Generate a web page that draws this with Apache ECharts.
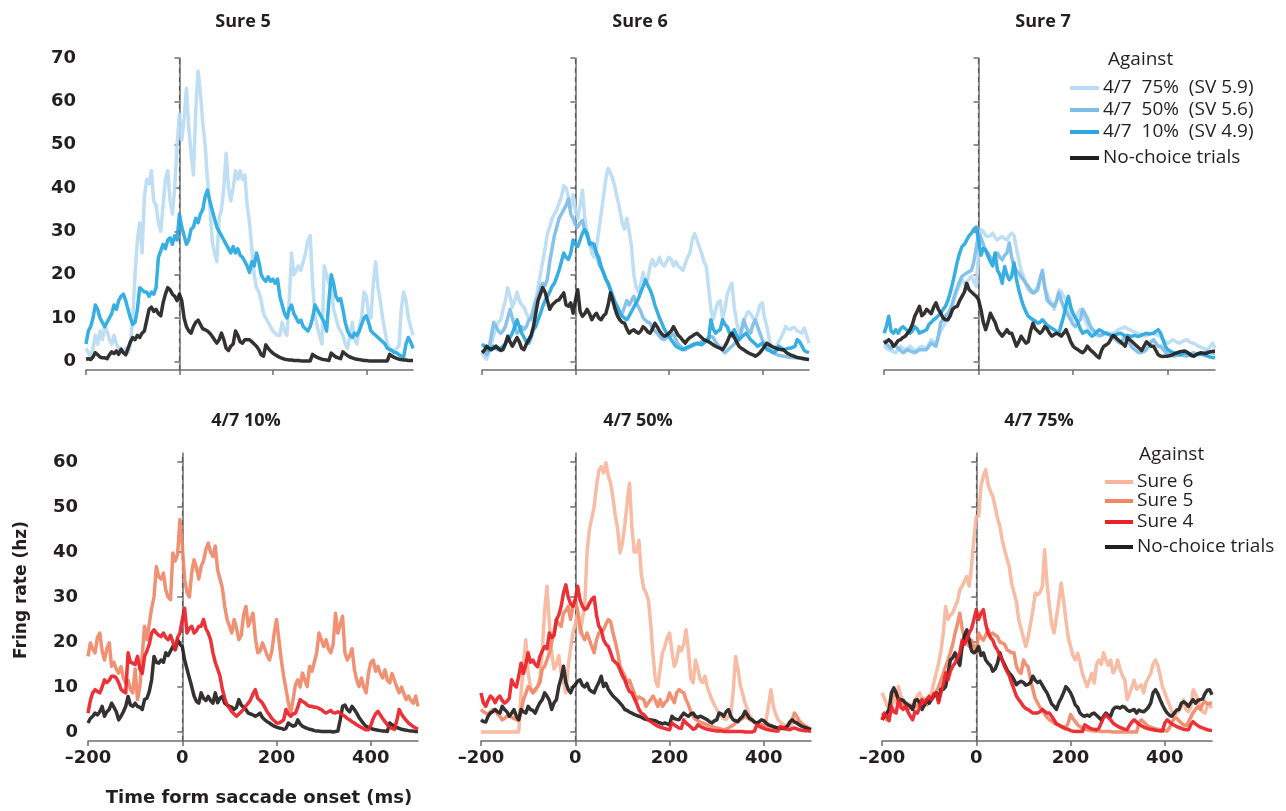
<!DOCTYPE html>
<html>
<head>
<meta charset="utf-8">
<script src="https://cdn.jsdelivr.net/npm/echarts@6/dist/echarts.min.js"></script>
<style>
  html, body { margin: 0; padding: 0; background: #ffffff; }
  #chart { width: 1286px; height: 811px; }
</style>
</head>
<body>
<div id="chart"></div>
<script>
// Sampling grid: time from saccade onset, 5 ms bins
const TIME = Array.from({ length: 141 }, (_, i) => -200 + 5 * i);

const X_TICKS = [-200, 0, 200, 400];
const Y_TICKS_TOP = [0, 10, 20, 30, 40, 50, 60, 70];
const Y_TICKS_BOTTOM = [0, 10, 20, 30, 40, 50, 60];

// ---- Top row: Sure 5 / Sure 6 / Sure 7, against the 4/7 gambles ----
const s5_p75 = [
  3, 2, 1, 3, 6, 4, 7, 5, 8, 7, 5, 4, 6, 4, 3, 3, 2, 3, 2, 4,
  10, 20, 28, 32, 25, 38, 42, 41, 44, 37, 36, 32, 30, 36, 42, 44, 37, 34, 40, 50,
  57, 51, 56, 63, 54, 48, 43, 58, 67, 62, 55, 50, 42, 36, 28, 25, 23, 33, 35, 40,
  48, 40, 37, 40, 44, 42, 44, 42, 43, 36, 32, 26, 20, 17, 16, 14, 11, 10, 9, 8,
  7, 6.5, 6, 6, 9, 7, 6, 14, 25, 20, 21, 22, 21, 23, 25, 28, 29, 18, 11, 8,
  6, 4, 22, 20, 18, 17, 12, 10, 8, 7, 6, 4, 3, 6, 9, 5, 4, 8, 10, 16,
  15, 11, 10, 18, 23, 17, 14, 10, 7, 4, 3, 2.5, 2.3, 3, 3.5, 12, 16, 14, 10, 8, 6
];
const s5_p10 = [
  4, 7, 8, 10, 13, 12, 10, 9, 8, 9, 10, 11, 13, 12, 14, 15, 15.5, 14, 12, 10,
  8.5, 9, 12, 17, 16.5, 16, 16, 15, 16, 15.5, 17, 24, 25.5, 27, 26, 28, 28.5, 27, 29, 28,
  34, 31, 29, 27, 28, 30.5, 31, 33, 32, 34, 35, 38, 39.5, 37, 35, 33, 31, 30, 29, 28,
  27, 26, 25, 26.5, 25, 26, 24.5, 24, 23, 22, 20.5, 23, 22, 25, 23, 20, 19, 18.5, 19.5, 18.5,
  19, 18, 19, 15, 13, 11, 10, 12, 13, 11, 10, 9, 9.5, 8, 7.5, 7, 8, 10, 13, 12,
  11, 10, 9, 7, 14, 20, 18, 15, 14, 14.5, 12, 9, 7, 6, 5.5, 6.5, 6, 7, 8.5, 10,
  10.5, 9, 7, 6.5, 6, 5.5, 5, 4.5, 4, 3, 2.7, 2.5, 2, 2, 1.5, 1.2, 1, 4, 5.5, 4.5, 3
];
const s5_none = [
  0.5, 0.6, 0.4, 1, 2, 1.5, 1, 0.8, 0.8, 0.6, 1.5, 2.2, 1.8, 2.4, 1.6, 2.8, 2, 1.5, 3, 4.5,
  5.5, 5, 6, 5.5, 6.5, 7, 9.5, 12, 12.5, 11.5, 12, 11, 10.5, 13.5, 15.5, 17, 16.5, 15.5, 15, 14,
  15.5, 14, 10, 8, 7, 6.5, 8, 9, 9.5, 8.5, 7.5, 7.3, 7, 6.5, 5.8, 5, 4.2, 5, 6.5, 5,
  3, 2.5, 3.5, 4, 7, 6, 4.5, 4.2, 5, 5, 5, 4.5, 4, 3.5, 2.7, 1.5, 1.2, 3.8, 3, 2.4,
  1.9, 1.5, 1.2, 0.9, 0.7, 0.5, 0.4, 0.3, 0.3, 0.2, 0.2, 0.2, 0.1, 0.1, 0.1, 0.1, 0.1, 1.6, 1.2, 0.9,
  0.7, 0.5, 0.4, 0.3, 0.2, 1.9, 1.4, 1, 0.8, 0.6, 2.2, 1.7, 1.3, 1, 0.8, 0.6, 0.5, 0.4, 0.3, 0.2,
  0.2, 0.1, 0.1, 0.1, 0.1, 0.1, 0.1, 0.1, 0.1, 0.1, 1.6, 1.2, 0.9, 0.7, 0.5, 0.4, 0.3, 0.3, 0.2, 0.2, 0.2
];

const s6_p75 = [
  2, 1, 0.5, 2, 4, 6, 8, 9, 9.5, 12, 14, 17, 15, 12.5, 14, 16, 14, 13, 12.5, 11,
  10, 9.5, 12, 14, 17, 20, 23, 26, 29.5, 31, 33, 34, 35, 36.5, 38, 40.5, 40, 38, 35.5, 38.5,
  35, 33, 36, 39.5, 33, 30, 28, 25, 24, 26.5, 30, 34, 38, 42, 44.5, 43.5, 42, 40, 37.5, 35,
  32, 30.5, 33, 30, 26.5, 20, 17, 16, 18, 20.5, 18, 19, 22, 23.5, 22, 22.5, 24, 22.5, 22, 23,
  24, 23.5, 22, 23, 22, 21.5, 21, 22.5, 24, 25, 28, 29.5, 28, 26.5, 25, 23, 22, 17, 12, 9.6,
  12, 13.5, 14, 10, 12, 15.5, 17, 18, 12.5, 9, 7, 6.5, 9, 10.5, 11.5, 11, 10, 9.6, 11, 13,
  13.5, 10, 8, 5, 3, 2.7, 3.5, 4.5, 5.5, 6.5, 8, 7.5, 7.3, 7.8, 7.7, 7, 6.8, 6.5, 7.7, 6, 4.2
];
const s6_p50 = [
  2.7, 2, 1.5, 3, 6, 9, 8, 7, 6.5, 7, 8, 10, 12, 10, 8, 6.5, 7, 8, 7.3, 8,
  9.5, 10, 12, 14, 15, 17, 18, 17.5, 19, 23, 26, 29, 31, 33, 34, 35, 36, 37.5, 34, 33,
  31.5, 31, 32, 32.5, 30, 29, 27.5, 26.5, 26, 25, 22.5, 21.5, 20.5, 19, 18, 16.5, 15, 13.5, 12.5, 11.5,
  11, 12.5, 14, 13, 14, 15, 13.5, 12.5, 11.5, 10, 9.5, 9, 8.8, 7.5, 7, 6.5, 5.8, 5.2, 5, 5.5,
  5.8, 6, 6.3, 5, 4, 3.5, 3, 2.7, 3, 3.3, 3.5, 3.8, 4, 4.2, 4.5, 4.8, 5, 5.4, 5.8, 5.5,
  4.5, 3.8, 3.2, 2.5, 2, 2.5, 3, 3.5, 4, 4.5, 5, 7, 9.6, 8, 7, 6.5, 8.5, 9.6, 8, 6.5,
  5, 4, 3.5, 2.8, 2.2, 1.9, 1.6, 1.4, 1.3, 1.2, 1.1, 1, 0.9, 0.9, 0.8, 0.8, 0.7, 0.6, 0.5, 0.5, 0.4
];
const s6_p10 = [
  4, 3.5, 3, 2.5, 3, 3.5, 3, 2.7, 3, 3.5, 4, 5, 5.5, 6.5, 8, 9.6, 8, 6.5, 5.5, 4.5,
  4.2, 5.5, 7.3, 8, 9.6, 11, 12.7, 14, 15, 16, 17.3, 18, 19.5, 21, 23, 25, 24, 23.5, 25, 28,
  27, 26.5, 28, 29.6, 30.4, 29.5, 27, 27.3, 27, 25, 24, 22, 20.4, 19, 18, 16.5, 15, 13.5, 12.5, 11,
  10.4, 10, 9.6, 10.5, 11.5, 12.5, 13.5, 14.5, 16, 17.3, 18.8, 17.5, 16.5, 15, 13, 11.5, 10, 8.8, 7.5, 6.5,
  5.8, 5, 4.2, 3.5, 3.2, 2.9, 2.7, 3, 3.3, 3.5, 3.8, 4, 4.2, 4, 3.8, 4.2, 4.7, 5, 9.6, 7.5,
  6.5, 7, 7.3, 9.6, 8.5, 8, 6.5, 5.8, 7.3, 6, 5, 5.5, 6, 6.5, 5.8, 5, 4.5, 4, 3.5, 3.8,
  4.2, 3.5, 2.7, 2.5, 2.2, 2, 2.5, 3.5, 3.2, 2.7, 2.8, 3, 3, 3.2, 3.5, 5, 4.5, 3.5, 2.5, 2.2, 2
];
const s6_none = [
  2, 2.5, 3.5, 3, 2.7, 3, 3.5, 3, 2.5, 2.7, 4, 5.8, 4.5, 3.5, 4.5, 5.5, 4.5, 3, 2.7, 4,
  5, 6, 8, 11, 14, 15.5, 17, 16, 14, 12, 13, 13.5, 14, 14.2, 15, 15.8, 13, 12.7, 13.5, 11.1,
  14, 16.5, 11.5, 10.4, 11, 12, 11, 9.6, 10.5, 11.1, 10, 9.6, 10.5, 11, 13, 15.8, 14, 12, 10.5, 9.6,
  9, 8.8, 7.5, 6.5, 7, 7.3, 6.8, 6.5, 7, 8, 7.5, 6.8, 6.5, 7.5, 8.8, 8, 7, 6.3, 5.8, 6,
  6.5, 7, 8, 7, 6, 5.5, 4.8, 4.2, 5, 5.5, 5.8, 6.2, 6.5, 6, 5.5, 5, 4.8, 4.5, 4.2, 3.8,
  3.5, 3.2, 3, 2.7, 3.5, 4.5, 5.8, 6.5, 5.5, 4.5, 3.5, 3, 2.7, 2.3, 2, 1.7, 1.5, 1.2, 1.5, 2,
  2.7, 3.5, 4.2, 3.8, 3.5, 3.2, 3, 2.8, 2.7, 2.7, 2.2, 1.8, 1.5, 1.3, 1.1, 0.9, 0.8, 0.7, 0.6, 0.5, 0.4
];

const s7_p75 = [
  3.5, 3, 2.7, 2.5, 2.2, 2, 2.8, 3.5, 3, 2.7, 3, 3.5, 3, 2.5, 2.7, 3.2, 3.5, 3.2, 3, 4,
  5, 4.5, 4, 5.5, 7, 8, 9, 9.6, 11, 13, 15, 16.5, 17.5, 18.8, 18, 18.3, 19, 19.6, 18.5, 17.3,
  25, 30.4, 30, 29, 28.8, 29, 29.6, 28.5, 28, 28.5, 28.8, 28.3, 28, 29, 29.6, 29, 26, 23.4, 21, 19.6,
  18, 16.5, 16, 15.8, 16.5, 17.3, 19, 20.4, 17, 15.8, 14.2, 13.5, 12, 14, 16.5, 16, 15, 14.2, 12, 11.1,
  10, 9.6, 11, 12, 11, 9.6, 8.5, 7.3, 7, 6.5, 6, 5.8, 6, 6.3, 6.5, 6.5, 6.5, 6.5, 6.8, 7.3,
  7.5, 7.8, 8, 7.5, 7.3, 7, 6.8, 6.5, 6.3, 6, 5.8, 6, 6.2, 6.4, 6.5, 6.2, 6, 5.8, 5, 4.5,
  4.2, 4.5, 5, 4.7, 4.4, 4.2, 4.5, 4.8, 5, 4.6, 4.3, 4.2, 3.8, 3.5, 3.3, 3, 2.8, 2.7, 3.5, 4.2, 3
];
const s7_p50 = [
  5, 4, 3.5, 3, 3.8, 3.5, 3, 2.5, 2, 2.3, 2.7, 2.4, 2.2, 2, 2.3, 2.7, 2.7, 2.7, 2.7, 3.5,
  4.2, 3.8, 3.5, 6, 9, 9.6, 10.5, 11, 12, 13.5, 15.5, 17, 18.5, 19.6, 20, 20.4, 20.7, 21, 23, 26,
  29.6, 28.5, 27, 25.5, 25, 24, 23.4, 24.5, 25, 24, 23.4, 24.5, 25, 27.3, 24, 22, 21, 20.4, 19.5, 18.8,
  18, 17.3, 16.5, 15.8, 16, 16.5, 19, 21, 17, 14.2, 13.5, 13, 12.7, 14, 15.8, 14, 12.5, 11.5, 10.5, 9.6,
  8.5, 8, 9, 9.6, 12, 11, 10, 8.5, 7.5, 7, 6.5, 6, 6, 6.3, 6.5, 6.3, 6, 5.8, 5, 4.5,
  4.2, 5, 5.8, 5, 4, 3.2, 2.7, 2.3, 2, 2.1, 2.3, 2.7, 3.5, 4.5, 5, 4.2, 3.5, 3.5, 2.8, 2.2,
  1.8, 1.5, 1.3, 1.2, 1.4, 1.5, 1.4, 1.3, 1.2, 1.5, 1.8, 2, 1.7, 1.5, 1.6, 1.8, 2.1, 2.3, 2.1, 1.9, 1.9
];
const s7_p10 = [
  6.5, 8, 10.4, 7, 6.5, 7.3, 6.5, 7.5, 8, 7.5, 7, 6.5, 7, 8, 7.5, 6.5, 6.8, 7, 7.3, 8.5,
  9, 9.6, 10, 10.5, 11.1, 12, 12.7, 14, 15.8, 18, 20.4, 23, 25, 26.5, 27, 28, 29, 29.6, 30.5, 31,
  28, 24.5, 26, 25.7, 24.2, 23, 22, 25, 21, 20, 18, 21.9, 20, 18.8, 19.6, 22.7, 19, 16.5, 14.5, 12.7,
  11.5, 10.4, 10, 9.6, 9.3, 8.8, 9, 9.6, 9, 8.3, 8, 7.6, 7.3, 6.8, 6.5, 8.5, 10.4, 13, 15, 12.5,
  11, 10, 9, 7.5, 6.5, 6.8, 7, 6.3, 5.8, 6.2, 6.8, 7.3, 7, 6.6, 6.5, 6.2, 6, 5.8, 6.1, 6.4,
  6.5, 6.2, 5.8, 6, 5.8, 5.8, 6, 5.8, 5.8, 6.1, 6.3, 6.5, 6.3, 6.4, 6.5, 6.9, 7.3, 6.5, 5, 3.5,
  2.7, 2.4, 2.1, 1.9, 1.7, 1.5, 1.7, 1.9, 2, 1.6, 1.3, 1.2, 1.5, 1.8, 1.6, 1.5, 1.4, 1.2, 1, 0.9, 0.8
];
const s7_none = [
  4.2, 4.5, 5, 4.5, 3.5, 4, 4.8, 5, 5.5, 5.8, 6.5, 7.3, 8.5, 10.4, 11.5, 12.7, 10.5, 11, 12, 11.5,
  11, 12.5, 13.5, 12, 11.1, 10, 9.6, 9.6, 10.5, 12, 12.5, 12.7, 14, 15, 16, 18, 16.5, 16, 15.5, 15,
  14.2, 12, 9, 7.3, 9, 11.1, 10, 9, 7.3, 6.5, 5.8, 6.5, 7.3, 6.5, 6.5, 5, 3.5, 4.5, 5.8, 5,
  4.2, 4.5, 7, 8.8, 7.5, 7, 6.5, 7, 8, 7.5, 6.5, 5.8, 6.2, 6.5, 6.2, 5.8, 6.5, 7.3, 6, 4.5,
  3.5, 3, 2.7, 2.3, 2, 2.5, 3.5, 2.8, 2.3, 1.8, 1.2, 0.8, 2.5, 3.5, 3.8, 4.2, 5.2, 6, 5.5, 5,
  4.5, 4, 3.5, 5.5, 5, 4.5, 4, 3.5, 3, 2.5, 3.5, 4.5, 4, 3.5, 3.5, 2.5, 1.5, 1.2, 1.1, 1.2,
  1.2, 1.3, 1.5, 1.8, 2, 2.2, 2.3, 2.4, 2.2, 1.8, 1.4, 1.2, 1.5, 1.8, 2, 1.9, 1.8, 2, 2.2, 2.3, 2.3
];

// ---- Bottom row: 4/7 10% / 50% / 75%, against the sure options ----
const p10_s5 = [
  16.8, 19.8, 18.5, 17.6, 21, 22, 18, 16, 18.5, 19.8, 14.6, 15.5, 14, 13.1, 14.5, 12, 10.9, 11.5, 9.5, 8.7,
  14, 7.2, 10, 17, 23.5, 20.5, 24, 27.5, 30, 36.8, 34.5, 34, 35.3, 31.5, 30, 29.4, 39.8, 38, 39.5, 47.2,
  41.3, 33.9, 31, 30, 35.3, 38.3, 36.5, 34, 36.8, 38, 40.5, 42, 40, 39, 41.3, 36, 34, 32, 27.9, 25,
  23.5, 22, 25, 23, 20.5, 21.5, 26, 27.9, 23.5, 25, 26.4, 21, 17.6, 18, 19.8, 18.5, 17, 16, 18, 22,
  25, 20.5, 16, 12.4, 9.5, 6.5, 4.2, 7.2, 10.5, 11.6, 10, 13.1, 11.5, 10.1, 14.6, 13.5, 15.5, 17.6, 22, 20.5,
  19, 20.5, 18.5, 17.6, 19.5, 26.4, 22, 24, 25.7, 17.6, 16, 17, 18.5, 14, 11.5, 10.1, 12, 10, 8.7, 13.1,
  15.5, 16, 13.5, 14.6, 13, 12, 13.8, 11.5, 10.9, 13, 11.5, 10, 8.7, 10, 8.5, 7.2, 8, 7, 6.4, 8, 5.7
];
const p10_s4 = [
  4.2, 7, 8.7, 9.4, 9, 8.7, 10, 11.6, 11, 11.5, 12.4, 12.4, 12, 11, 9.5, 9, 8.7, 17.6, 15.5, 15.3,
  15, 16.8, 14, 13, 16.8, 18, 19.5, 22, 22.7, 22, 21.5, 21.2, 22, 21, 20.5, 21.5, 20, 18.3, 21, 22,
  25, 27.5, 22, 23, 23.5, 22, 22.5, 23.5, 23.5, 25, 23, 22, 20.5, 17.6, 15.5, 14, 12.4, 9.5, 7.5, 6,
  5.3, 4.5, 4, 3.5, 4, 4.5, 5, 5.8, 6.4, 7.2, 8.5, 9.4, 7.5, 7, 6.4, 5.5, 4.5, 3.8, 3, 2.5,
  2, 2, 2.3, 2.7, 5, 4, 3.5, 4, 4.2, 5.5, 7.2, 6.8, 6.5, 6, 5.7, 5.7, 5.5, 5.5, 5.2, 5,
  4.5, 4.2, 4.5, 4.8, 4.3, 4.2, 4.5, 4.2, 3.8, 3.5, 3, 2.7, 2.3, 2, 1.6, 1.3, 1, 0.7, 0.5, 0.5,
  1.5, 3, 4, 4.6, 3.8, 3, 2.3, 1.6, 1, 0.8, 0.6, 2.5, 5, 4, 3.2, 2.6, 2, 1.6, 1.2, 0.9, 0.6
];
const p10_none = [
  2, 3, 3.5, 4.2, 3.8, 4.5, 5.7, 3.5, 4.5, 5, 6.4, 5.5, 4.5, 2.7, 3.5, 4.5, 5.7, 7.9, 6, 5.7,
  6.4, 5.7, 5.5, 5, 7.2, 7.5, 9, 11.6, 16.8, 15.5, 15.3, 16, 15.5, 17.6, 17, 18, 19, 18.3, 20.5, 19.5,
  19, 16, 14, 12, 10.1, 8, 6.8, 6.4, 8.7, 7.5, 7, 7.9, 7, 6.4, 8.7, 6.5, 7.5, 7.9, 6.4, 6,
  5.7, 5.5, 5, 5.5, 7.2, 6, 5.5, 5, 4.2, 4, 3.8, 3.5, 3.8, 4.2, 3.2, 2.7, 2.3, 2, 1.6, 1.3,
  1.1, 0.9, 0.8, 0.6, 0.8, 2, 1.6, 1.3, 1.5, 2.7, 1.8, 1.3, 1, 0.8, 0.6, 0.5, 0.3, 0.2, 0.2, 0.1,
  0.1, 0.1, 0.1, 0.1, 0, 0.1, 0.2, 2.7, 5.7, 6, 5, 4.5, 5.7, 5, 4.2, 3.2, 2.5, 1.8, 1.3, 1,
  0.8, 0.6, 0.5, 0.4, 0.3, 0.2, 0.2, 0.1, 2, 1.6, 1.3, 1, 0.8, 0.6, 0.5, 0.4, 0.3, 0.2, 0.2, 0.1, 0.1
];

const p50_s6 = [
  0, 0, 0, 0, 0, 0, 0, 0, 0, 0, 0, 0, 0, 0, 0, 0, 0, 8.7, 15, 20.5,
  13.1, 10, 8.7, 9, 10.1, 12, 18, 27, 32.4, 24, 17.6, 14, 15, 17, 13.1, 11, 8.7, 14.6, 18.5, 22,
  24, 26.4, 22, 25, 27.9, 40, 45, 47.5, 50.1, 54.6, 58, 59, 57.6, 59.8, 57, 55.3, 52, 48, 45, 39.8,
  42, 46, 51, 55.3, 45.7, 40, 40, 42.6, 35, 32, 30.9, 29.4, 24, 17, 11.6, 10.1, 14, 17.6, 19, 21,
  22, 18, 14.6, 16, 19, 18, 19.5, 22.7, 18, 12, 10.9, 16, 14, 11.6, 11, 12.4, 10, 8.5, 7.2, 6,
  5, 4.3, 3.5, 3, 2.8, 3.5, 4, 9, 16.8, 14, 10.5, 8.5, 6.5, 5, 3.5, 2.7, 2.3, 2, 1.8, 1.7,
  1.6, 2.7, 6, 9.4, 5.7, 4, 2.7, 2.2, 1.8, 1.5, 1.2, 1, 2, 2.5, 2.7, 2.2, 1.7, 1.4, 1.1, 0.9, 0.7
];
const p50_s5 = [
  5, 4.5, 4.2, 4, 4.5, 5, 5, 4, 3.5, 2.7, 3, 3.5, 3.5, 3.3, 3, 2.7, 2.7, 4.5, 7.2, 8.5,
  10.1, 9.5, 8.7, 9.5, 10.1, 11, 14, 14.6, 16, 17.6, 20, 22, 25, 24, 23.5, 26.4, 27, 27.9, 25, 28,
  29.4, 27, 23.5, 21.5, 20.5, 22, 20.5, 19, 17.6, 20.5, 22, 22.5, 22.7, 24, 25, 24.5, 22, 20, 17.6, 14.6,
  13.5, 12.5, 10.9, 11.5, 10, 8.7, 7.2, 7.8, 7.5, 7.2, 5.7, 6.5, 7.2, 8, 7, 5.7, 7.2, 5.7, 6.5, 7,
  8.7, 7.5, 6.5, 8.7, 9.4, 9, 8.7, 7.2, 6, 4.5, 3.5, 2.8, 2.5, 2.2, 2, 1.8, 1.6, 1.3, 1.2, 1,
  0.9, 0.8, 0.6, 0.5, 0.6, 0.9, 1.2, 1.5, 2, 2.5, 2.8, 3, 3.5, 3.2, 2.8, 2.5, 2.2, 2, 1.8, 1.6,
  1.5, 1.4, 1.3, 1.2, 1.1, 1, 0.9, 0.8, 0.7, 0.6, 1.2, 2, 2.7, 4.2, 3.5, 2.5, 2, 1.5, 1.2, 0.9, 0.6
];
const p50_s4 = [
  8.7, 6.5, 5.7, 7, 8, 7.5, 6.5, 7.5, 8, 7, 6.4, 6.8, 7.5, 11.6, 10.5, 10, 12.4, 15.3, 13, 15,
  17.6, 15.5, 16, 15, 14.5, 16.8, 18, 19, 18.5, 22, 21, 21.5, 25, 26, 27.9, 30.9, 32.7, 30, 28.5, 27.9,
  29.4, 32.4, 29.4, 28, 27.2, 27.5, 28.6, 29.5, 30, 26, 23.5, 22.7, 20.5, 19.5, 19, 17.6, 16, 15.5, 15, 13.8,
  12.5, 11.6, 10.1, 9, 8.7, 7.5, 6.4, 5, 4.2, 3.9, 3.3, 2.7, 2.3, 2, 1.6, 1.3, 1.1, 0.9, 0.8, 0.6,
  0.5, 2, 1.6, 1.2, 0.9, 0.8, 2.7, 2, 1.6, 1.1, 0.6, 0.8, 1.6, 1.3, 1, 0.8, 0.6, 0.5, 0.4, 0.3,
  0.2, 0.2, 0.2, 0.1, 0.1, 0.1, 0.1, 0.1, 0.1, 0.1, 0.1, 0.1, 0, 0, 0, 0, 0.2, 1.6, 1.3, 1,
  0.8, 0.6, 0.5, 0.4, 0.3, 0.2, 0.2, 1.2, 1, 0.8, 0.6, 0.5, 0.8, 0.9, 0.7, 0.5, 0.4, 0.3, 0.3, 0.2, 0.2
];
const p50_none = [
  2.7, 2.3, 2.2, 3.5, 4.2, 4.5, 5, 4.5, 4.2, 5.7, 5, 4.5, 3.5, 4.2, 5, 3.5, 2.7, 5, 4.5, 4.2,
  5.7, 5, 4.8, 4.2, 5.5, 6.5, 7.2, 8.7, 8, 7, 5, 6.5, 7.2, 10.1, 12, 14.6, 11, 9.5, 8.7, 10,
  10.5, 11.3, 11.6, 10.4, 10, 10.8, 9.4, 9, 8.7, 10, 11, 12.4, 10.1, 10.8, 9.5, 8.7, 8, 7.5, 7, 6.4,
  5.8, 5, 4.8, 4.4, 4.2, 3.9, 3.7, 3.5, 3.3, 3, 2.8, 2.7, 2.7, 2.6, 2.5, 2.2, 2, 1.8, 2, 1.8,
  1.6, 3.5, 3, 2.8, 2.7, 3.5, 4.2, 3.8, 3.5, 4, 4.2, 3.5, 3.2, 3.5, 3.3, 3, 2.7, 2.3, 2, 2.5,
  2.7, 4.2, 4, 3.5, 4.5, 5, 3.5, 2.7, 2.5, 2.3, 3, 3.5, 4.6, 3.8, 3, 2.7, 2.2, 2, 2.3, 2.7,
  2.5, 2, 1.6, 1.4, 1.2, 1, 0.9, 0.8, 0.9, 1, 1.3, 2.2, 2.7, 2.2, 2, 1.6, 1.3, 1.1, 0.9, 0.7, 0.5
];

const p75_s6 = [
  8.7, 7.5, 6, 5, 6, 6.5, 7.2, 10.1, 8, 7, 5.7, 6.4, 6, 5, 7.2, 8, 8.7, 7.2, 7.5, 7.2,
  8, 8.7, 11, 13.1, 15.3, 18, 22, 27.9, 25, 26, 26.5, 27.8, 29, 31.6, 32.4, 33.5, 34.6, 32.4, 37, 43,
  47.9, 48, 54.6, 56.9, 58.3, 55, 53.5, 52.4, 50.1, 47.5, 45.7, 42.7, 40.5, 38.5, 36.8, 33, 31, 29, 25, 23,
  21, 19, 21, 24, 27, 30.9, 30.5, 31, 32.4, 40.5, 33, 28, 24, 22, 25.5, 29, 33.1, 29.4, 25, 21,
  19, 17, 16, 17.5, 15.5, 13, 11.6, 10.1, 11.5, 13, 10.9, 15, 16, 15, 17.6, 16, 14.8, 16, 13.1, 14,
  16, 14, 12.5, 11.6, 7.2, 8.5, 10, 11.5, 9.5, 10, 10.5, 8.7, 11, 12, 13, 15, 16, 14.8, 12.5, 10,
  8.7, 7.2, 6, 4.5, 3.5, 4.2, 4.8, 5.5, 7.2, 5, 4.5, 5.5, 9.4, 8.5, 7, 5.5, 4.5, 4.2, 5.8, 6, 5.3
];
const p75_s5 = [
  4.2, 3.5, 2.7, 4.5, 7, 8.7, 8, 7.2, 6.5, 6, 5.5, 5, 5.5, 6, 5.5, 6, 6.5, 7, 6.5, 6,
  7, 7.5, 8, 9, 10, 11.5, 13, 14.6, 16, 17.6, 19.5, 22, 24, 26.4, 23, 21, 20, 19, 20.4, 19,
  17.6, 22, 21, 20.4, 21.5, 22.7, 21.5, 22, 21.5, 21.2, 20, 19.8, 19.5, 18.3, 18, 17.6, 17.6, 14.6, 13.5, 13,
  16, 15, 14.5, 11.6, 9.5, 7.5, 6.5, 5.5, 5, 4, 3.3, 2.7, 2.4, 2, 1.8, 1.5, 1.3, 1.2, 1, 2,
  3.9, 3, 2.3, 1.6, 1.2, 0.8, 0.6, 0.5, 0.4, 0.3, 0.2, 0.2, 0.2, 0.1, 0.1, 0.1, 0.1, 0.1, 0, 0,
  0, 0, 0, 0, 0, 0, 0, 0, 0, 2, 2.7, 2.2, 1.7, 1.3, 1.1, 0.9, 0.7, 0.6, 0.5, 0.4,
  0.3, 0.2, 1, 2.2, 3, 3.1, 2.5, 2, 1.6, 1.4, 2.2, 3.3, 4.3, 5, 5.7, 5, 6.2, 6.8, 6.2, 6.4, 6.5
];
const p75_s4 = [
  2.7, 4.2, 3.5, 2.5, 5.7, 4.5, 4.2, 7.2, 5.5, 5, 5.7, 4.5, 3.5, 2.7, 4.5, 4.2, 5.5, 7.2, 6.5, 7,
  7.9, 7.2, 8.5, 8.7, 6.5, 8.7, 10.5, 13.1, 11.6, 13.5, 14.6, 15.3, 16.5, 17.6, 20.4, 19.5, 20.5, 22, 23, 25,
  27.2, 25, 26.4, 27.2, 24, 22, 21, 20.4, 19, 18.2, 17, 16, 14.6, 13.5, 12.5, 10.9, 9.5, 8, 7.2, 6.5,
  5.7, 5.2, 5, 4.6, 4.2, 4.2, 4.2, 4.5, 5, 4.6, 4.2, 4.2, 3.5, 2.7, 1.8, 1.6, 1.2, 0.9, 0.7, 0.6,
  0.3, 0.2, 0.1, 0.1, 0.1, 0.1, 1.6, 1.3, 0.9, 0.7, 0.6, 0.5, 0.8, 2, 3.2, 3.9, 3.2, 2.7, 2, 1.6,
  1.3, 1, 0.8, 0.6, 0.5, 1.5, 2.2, 2.7, 2.2, 1.7, 1.4, 1.1, 0.9, 0.7, 0.6, 0.5, 0.4, 0.3, 0.2, 0.2,
  2, 2.7, 2.2, 1.8, 1.5, 1.2, 1, 0.8, 0.6, 0.5, 0.5, 1.6, 2.3, 1.8, 1.4, 1.1, 0.9, 0.7, 0.5, 0.4, 0.3
];
const p75_none = [
  2.7, 3.5, 4.2, 5, 8.7, 9.8, 8.7, 7.2, 7.2, 7, 6.4, 6, 5.7, 5, 7, 7.2, 6.5, 5, 6, 7.2,
  6.4, 7.2, 8, 8.7, 7.2, 9.5, 9.5, 10.1, 13, 16, 16.5, 17.6, 16, 14.8, 19, 21.5, 22.7, 20.5, 18, 17.6,
  18, 19, 17, 17.6, 16, 15.3, 14.8, 13.5, 14, 15.3, 17.6, 16, 15, 13.8, 13.1, 12.5, 11.6, 10.5, 11, 11.3,
  11, 10.4, 10.6, 11, 12.4, 11.5, 11, 11.3, 10.4, 9.5, 8.7, 7.5, 6.2, 5.7, 5, 6.5, 7.5, 8.7, 10.1, 9.5,
  8.7, 7.5, 6, 5.5, 4.2, 3.7, 3.5, 3.8, 3.5, 4, 4.2, 3.7, 3.2, 2.7, 3.5, 4.2, 3.7, 3.5, 5, 5.5,
  5.5, 5.3, 5.7, 5.5, 4.9, 4.6, 4.8, 5, 4.2, 4.9, 4.6, 4.5, 4.9, 5.5, 6.4, 8.7, 9.4, 8.5, 7.2, 6,
  5, 4.2, 3.7, 3.5, 4.2, 4.9, 5, 6.4, 6.7, 6.3, 5.7, 6.5, 7.2, 6.4, 7, 7.2, 7.3, 8.5, 9.3, 9.4, 8.3
];

// ---- Styling ----
const INK = '#231f20';
const AXIS_GREY = '#6d6e71';
const C = {
  blue75: '#b9dbf3', blue50: '#7dbde8', blue10: '#27a8e0',
  sure6: '#f7b59b', sure5: '#f08868', sure4: '#ec2027',
  none: INK
};
const LBL_TOP = ['4/7  75%  (SV 5.9)', '4/7  50%  (SV 5.6)', '4/7  10%  (SV 4.9)', 'No-choice trials'];
const LBL_BOTTOM = ['Sure 6', 'Sure 5', 'Sure 4', 'No-choice trials'];

const PANELS = [
  { title: 'Sure 5', tx: 243, ty: 22, grid: { left: 86, top: 58, width: 327, height: 312 }, top: true, yLabels: true,
    lines: [[LBL_TOP[0], s5_p75, C.blue75], [LBL_TOP[2], s5_p10, C.blue10], [LBL_TOP[3], s5_none, C.none]] },
  { title: 'Sure 6', tx: 640, ty: 22, grid: { left: 482, top: 58, width: 327, height: 312 }, top: true, yLabels: false,
    lines: [[LBL_TOP[0], s6_p75, C.blue75], [LBL_TOP[1], s6_p50, C.blue50], [LBL_TOP[2], s6_p10, C.blue10], [LBL_TOP[3], s6_none, C.none]] },
  { title: 'Sure 7', tx: 1043, ty: 22, grid: { left: 884, top: 58, width: 331, height: 312 }, top: true, yLabels: false,
    lines: [[LBL_TOP[0], s7_p75, C.blue75], [LBL_TOP[1], s7_p50, C.blue50], [LBL_TOP[2], s7_p10, C.blue10], [LBL_TOP[3], s7_none, C.none]] },
  { title: '4/7 10%', tx: 246, ty: 421, grid: { left: 88, top: 453, width: 330, height: 288 }, top: false, yLabels: true,
    lines: [[LBL_BOTTOM[1], p10_s5, C.sure5], [LBL_BOTTOM[3], p10_none, C.none], [LBL_BOTTOM[2], p10_s4, C.sure4]] },
  { title: '4/7 50%', tx: 638, ty: 421, grid: { left: 481, top: 453, width: 330, height: 288 }, top: false, yLabels: false,
    lines: [[LBL_BOTTOM[0], p50_s6, C.sure6], [LBL_BOTTOM[1], p50_s5, C.sure5], [LBL_BOTTOM[3], p50_none, C.none], [LBL_BOTTOM[2], p50_s4, C.sure4]] },
  { title: '4/7 75%', tx: 1039, ty: 421, grid: { left: 882, top: 453, width: 330, height: 288 }, top: false, yLabels: false,
    lines: [[LBL_BOTTOM[0], p75_s6, C.sure6], [LBL_BOTTOM[1], p75_s5, C.sure5], [LBL_BOTTOM[3], p75_none, C.none], [LBL_BOTTOM[2], p75_s4, C.sure4]] }
];

const TICK_FONT = { fontFamily: 'DejaVu Sans', fontWeight: 'bold', fontSize: 18, color: INK };
const fmtTime = v => (v < 0 ? '\u2013' + Math.abs(v) : String(v));

const grids = [], xAxes = [], yAxes = [], series = [];
PANELS.forEach((p, i) => {
  grids.push(Object.assign({ containLabel: false }, p.grid));
  xAxes.push({
    type: 'value', gridIndex: i, min: -200, max: 500,
    axisLine: { show: true, onZero: false, lineStyle: { color: AXIS_GREY, width: 1.5 } },
    axisTick: { show: true, length: 5, customValues: X_TICKS, lineStyle: { color: AXIS_GREY, width: 1.5 } },
    axisLabel: Object.assign({ show: !p.top, customValues: X_TICKS, margin: 8, formatter: fmtTime }, TICK_FONT),
    splitLine: { show: false }
  });
  const yt = p.top ? Y_TICKS_TOP : Y_TICKS_BOTTOM;
  yAxes.push({
    type: 'value', gridIndex: i, min: -2, max: p.top ? 70 : 62,
    axisLine: { show: true, lineStyle: { color: AXIS_GREY, width: 1.5 } },
    axisTick: { show: true, length: 5, customValues: yt, lineStyle: { color: AXIS_GREY, width: 1.5 } },
    axisLabel: Object.assign({ show: p.yLabels, customValues: yt, margin: 10 }, TICK_FONT),
    splitLine: { show: false }
  });
  p.lines.forEach(([name, values, color], k) => {
    const s = {
      type: 'line', name: name, xAxisIndex: i, yAxisIndex: i,
      data: TIME.map((t, j) => [t, values[j]]),
      showSymbol: false, symbol: 'none', silent: true,
      lineStyle: { color: color, width: 3.5, opacity: 0.92, join: 'round' },
      itemStyle: { color: color },
      z: 3 + k
    };
    if (k === 0) {
      // dashed marker at saccade onset
      s.markLine = {
        silent: true, symbol: ['none', 'none'], label: { show: false },
        lineStyle: { type: [5, 4], color: '#5a5a5c', width: 1.2 },
        data: [{ xAxis: 0 }], z: 2
      };
    }
    series.push(s);
  });
});

// ---- Text and legends ----
const TITLE_FONT = 'bold 18px "Open Sans"';
const LEGEND_FONT = '19px "Open Sans"';
function text(x, y, str, font, align, extra) {
  return Object.assign({
    type: 'text', x: x, y: y,
    style: { text: str, font: font, fill: INK, align: align || 'center', verticalAlign: 'middle',
             textAlign: align || 'center', textVerticalAlign: 'middle' }
  }, extra || {});
}
function legend(items, colors, headX, headY, rowsY, lx1, lx2, tx) {
  const out = [text(headX, headY, 'Against', LEGEND_FONT, 'left')];
  items.forEach((label, k) => {
    out.push({ type: 'line', shape: { x1: lx1, y1: rowsY[k], x2: lx2, y2: rowsY[k] },
               style: { stroke: colors[k], lineWidth: 4 } });
    out.push(text(tx, rowsY[k], label, LEGEND_FONT, 'left'));
  });
  return out;
}

const graphics = [];
PANELS.forEach(p => graphics.push(text(p.tx, p.ty, p.title, TITLE_FONT)));
graphics.push(text(259, 798, 'Time form saccade onset (ms)', 'bold 18px "DejaVu Sans"'));
graphics.push(text(22, 590, 'Fring rate (hz)', 'bold 17px "DejaVu Sans"', 'center', { rotation: Math.PI / 2 }));
graphics.push(...legend(LBL_TOP, [C.blue75, C.blue50, C.blue10, C.none], 1108, 60, [88, 110, 132, 158], 1070, 1099, 1103));
graphics.push(...legend(LBL_BOTTOM, [C.sure6, C.sure5, C.sure4, C.none], 1139, 455, [482, 501, 522, 547], 1105, 1133, 1137));

const chart = echarts.init(document.getElementById('chart'), null, { renderer: 'canvas' });
chart.setOption({
  backgroundColor: '#ffffff',
  animation: false,
  grid: grids,
  xAxis: xAxes,
  yAxis: yAxes,
  series: series,
  graphic: { elements: graphics }
});

// sanity check on series lengths
const ALL = { s5_p75, s5_p10, s5_none, s6_p75, s6_p50, s6_p10, s6_none, s7_p75, s7_p50, s7_p10, s7_none,
  p10_s5, p10_s4, p10_none, p50_s6, p50_s5, p50_s4, p50_none, p75_s6, p75_s5, p75_s4, p75_none };
const bad = Object.keys(ALL).filter(k => ALL[k].length !== TIME.length).map(k => k + ':' + ALL[k].length);
if (bad.length) setTimeout(() => { throw new Error('length mismatch ' + bad.join(',')); }, 0);
</script>
</body>
</html>
